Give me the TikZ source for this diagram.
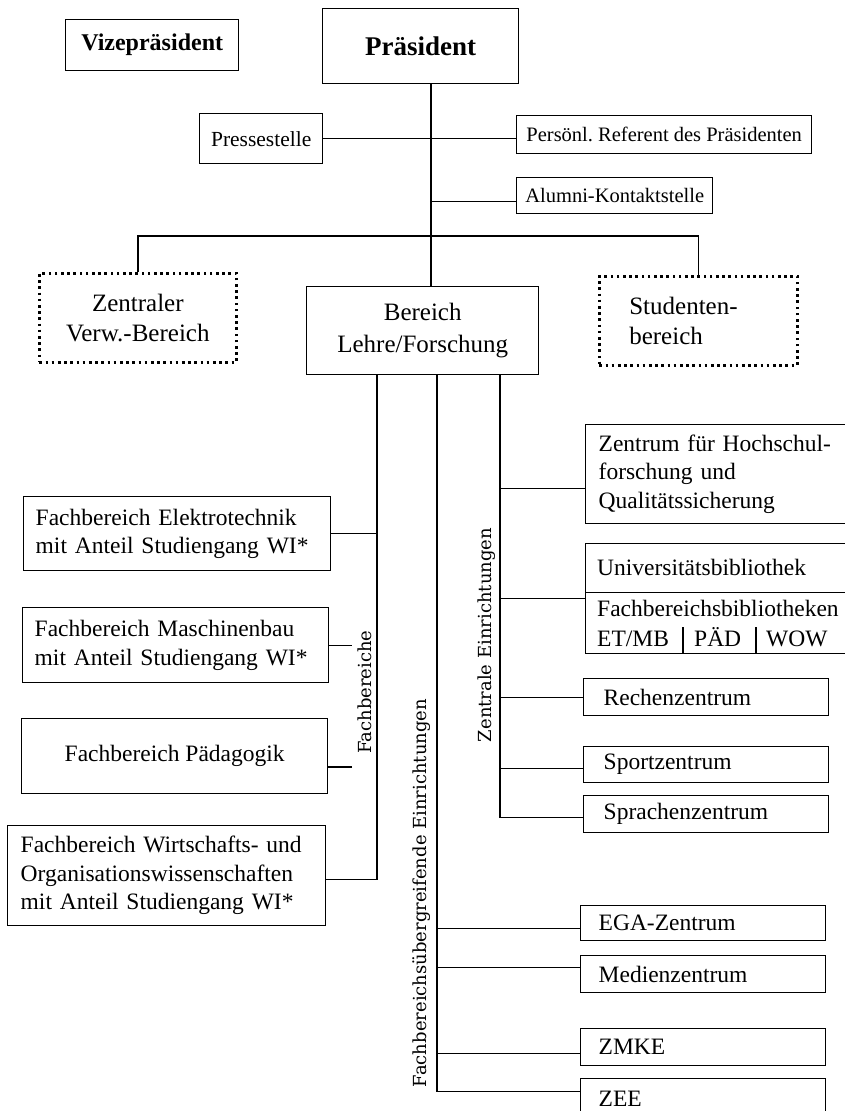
\documentclass[tikz,border=0pt]{standalone}
\usepackage{fontspec}
\setmainfont{Liberation Serif}
\newfontfamily\labelfont{DejaVu Serif}
\frenchspacing
\begin{document}
\begin{tikzpicture}[x=1pt,y=-1pt,
  line/.style={line width=1.4pt},
  box/.style={draw, line width=1.4pt, rectangle, anchor=north west, inner ysep=0pt, inner xsep=0pt},
  dotbox/.style={box, line width=2.6pt, dash pattern=on 2.6pt off 3.6pt},
  ftop/.style={font=\fontsize{20.5}{24}\selectfont},
  fmid/.style={font=\fontsize{25}{30}\selectfont},
  flow/.style={font=\fontsize{23.5}{28.5}\selectfont},
  txt/.style={inner sep=0pt, anchor=base west, font=\fontsize{23.5}{28.5}\selectfont},
  vlabel/.style={rotate=90, inner sep=0pt, font=\labelfont\fontsize{18}{20}\selectfont}
]
\useasboundingbox (0,0) rectangle (845,1111);
\clip (0,0) rectangle (845,1111);

% --- leadership level
\node[box, font=\bfseries\fontsize{24}{28}\selectfont, minimum width=173pt, minimum height=51pt] (vize) at (65,19) {Vizepräsident};
\node[box, font=\bfseries\fontsize{27}{32}\selectfont, minimum width=196pt, minimum height=75pt] (praes) at (322,8) {Präsident};

% --- staff units
\node[box, font=\fontsize{21.5}{24}\selectfont, minimum width=123pt, minimum height=50pt] (presse) at (199,113) {Pressestelle};
\node[box, ftop, minimum width=295pt, minimum height=38pt] (persoenl) at (516,115) {Persönl. Referent des Präsidenten};
\node[box, ftop, minimum width=196pt, minimum height=36pt] (alumni) at (516,177) {Alumni-Kontaktstelle};

% --- main areas
\node[dotbox, fmid, align=center, minimum width=197pt, minimum height=89pt] (zentraler) at (38,272) {Zentraler\\Verw.-Bereich};
\node[box, fmid, align=center, minimum width=232pt, minimum height=88pt] (bereich) at (306,286) {Bereich\\[2pt]Lehre/Forschung};
\node[dotbox, fmid, align=left, text width=138pt, inner xsep=30pt, minimum height=89pt] (studenten) at (598,275) {Studenten-\\bereich};

% --- departments
\node[box, flow, align=left, text width=283pt, inner xsep=12pt, minimum height=74pt] (elektro) at (23,496) {Fachbereich Elektrotechnik\\mit Anteil Studiengang WI*};
\node[box, flow, align=left, text width=282pt, inner xsep=12pt, minimum height=75pt] (maschinen) at (22,607) {Fachbereich Maschinenbau\\mit Anteil Studiengang WI*};
\node[box, flow, minimum width=306pt, minimum height=75pt] (paed) at (21,718) {Fachbereich Pädagogik};
\node[box, flow, align=left, text width=292pt, inner xsep=13pt, minimum height=100pt] (wirtschaft) at (7,825) {Fachbereich Wirtschafts- und\\Organisationswissenschaften\\mit Anteil Studiengang WI*};

% --- central institutions
\node[box, flow, align=left, text width=274pt, inner xsep=13pt, minimum height=99pt] (hochschul) at (585,424) {Zentrum für Hochschul-\\forschung und\\Qualitätssicherung};
\node[box, minimum width=300pt, minimum height=110pt] (unibib) at (585,543) {};
\node[txt] (unitxt) at (597,575) {Universitätsbibliothek};
\node[txt] (fbtxt) at (597,616) {Fachbereichsbibliotheken};
\node[txt] (etmb) at (597,646) {ET/MB};
\node[txt] (paedb) at (694,646) {PÄD};
\node[txt] (wowb) at (766,646) {WOW};
\draw[line] ([yshift=6pt]unibib.west) -- ([yshift=6pt]unibib.east);
\coordinate (sepa) at (683,627);
\coordinate (sepb) at (756,627);
\draw[line] (sepa) -- (sepa |- unibib.south);
\draw[line] (sepb) -- (sepb |- unibib.south);

\node[box, flow, align=left, text width=205pt, inner xsep=20pt, minimum height=37pt] (rechen) at (583,678) {Rechenzentrum};
\node[box, flow, align=left, text width=205pt, inner xsep=20pt, minimum height=36pt] (sport) at (583,746) {Sportzentrum};
\node[box, flow, align=left, text width=205pt, inner xsep=20pt, minimum height=37pt] (sprachen) at (583,795) {Sprachenzentrum};

% --- cross-departmental institutions
\node[box, flow, align=left, text width=209pt, inner xsep=18pt, minimum height=35pt] (ega) at (580,905) {EGA-Zentrum};
\node[box, flow, align=left, text width=209pt, inner xsep=18pt, minimum height=37pt] (medien) at (580,955) {Medienzentrum};
\node[box, flow, align=left, text width=209pt, inner xsep=18pt, minimum height=37pt] (zmke) at (580,1028) {ZMKE};
\node[box, flow, align=left, text width=209pt, inner xsep=18pt, minimum height=40pt] (zee) at (580,1078) {ZEE};

% --- group labels
\node[vlabel] (lblfb) at (365,692) {Fachbereiche};
\node[vlabel] (lblfu) at (422,893) {Fachbereichsübergreifende Einrichtungen};
\node[vlabel] (lblze) at (487,635) {Zentrale Einrichtungen};

% --- upper connectors
\coordinate (spine) at (431,0);
\coordinate (bar) at (431,236);
\draw[line] (spine |- praes.south) -- (spine |- bereich.north);
\draw[line] (presse.east) -- (presse.east -| persoenl.west);
\coordinate (alu) at ([yshift=-6pt]alumni.west);
\draw[line] (alu) -- (alu -| spine);
\draw[line] (zentraler.north) |- (bar) -| (studenten.north);

% --- department branch
\coordinate (fbtop) at (377,374);
\coordinate (wcon) at ([yshift=-4pt]wirtschaft.east);
\draw[line] (fbtop) |- (wcon);
\draw[line] (elektro.east) -| (fbtop);
\coordinate (mstub) at (352,645);
\draw[line] (maschinen.east) -- (maschinen.east -| mstub);
\coordinate (pstub) at (352,767);
\draw[line] (pstub) -- (pstub -| paed.east);

% --- cross-departmental branch
\coordinate (futop) at (437,374);
\draw[line] (futop) |- ([yshift=7pt]zee.west);
\draw[line] ([yshift=-5.5pt]ega.west) -| (futop);
\draw[line] ([yshift=6.5pt]medien.west) -| (futop);
\draw[line] ([yshift=-6.5pt]zmke.west) -| (futop);

% --- central institutions branch
\coordinate (zetop) at (500,374);
\draw[line] (zetop) |- ([yshift=-3.5pt]sprachen.west);
\draw[line] ([yshift=-14.5pt]hochschul.west) -| (zetop);
\draw[line] (unibib.west) -| (zetop);
\draw[line] (rechen.west) -| (zetop);
\draw[line] ([yshift=-4pt]sport.west) -| (zetop);
\end{tikzpicture}
\end{document}
